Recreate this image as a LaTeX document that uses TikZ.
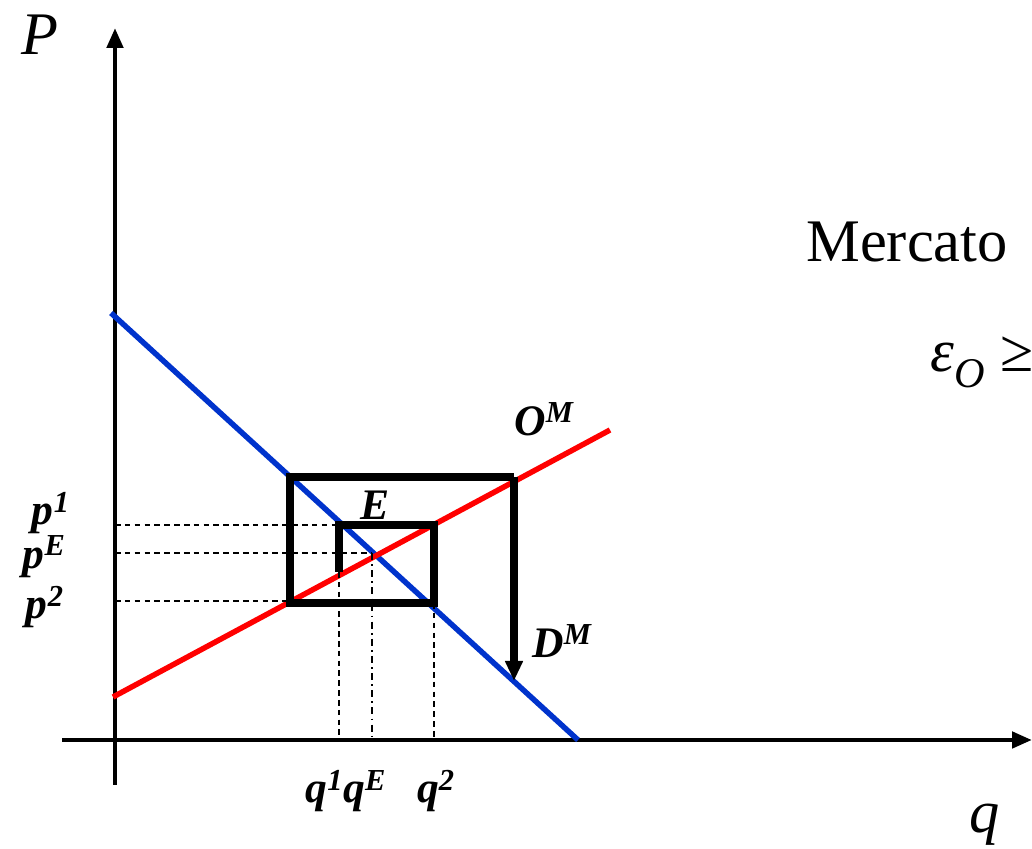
\documentclass[tikz,border=0pt]{standalone}
\usepackage{fontspec}
\setmainfont{Liberation Serif}
\usetikzlibrary{arrows.meta}

\definecolor{dblue}{RGB}{0,51,204}
\tikzset{
  axis/.style={line width=3.3pt, -{Triangle[length=5mm,width=4mm]}},
  demand/.style={line width=3.9pt, color=dblue},
  supply/.style={line width=3.9pt, color=red},
  web/.style={line width=5pt, line join=miter},
  guide/.style={line width=1.1pt, dash pattern=on 4pt off 3pt},
  guidedot/.style={line width=1.1pt, dash pattern=on 5pt off 3pt on 1.2pt off 3pt},
  lbl/.style={font=\fontsize{31}{33}\selectfont\bfseries\itshape, inner sep=0pt},
  big/.style={font=\fontsize{43}{46}\selectfont, inner sep=0pt},
}

\begin{document}
\begin{tikzpicture}
\useasboundingbox (0,0) rectangle (25.8,21.225);

% axes
\coordinate (ybot) at (2.875,1.6);
\coordinate (ytop) at (2.875,20.525);
\coordinate (xleft) at (1.55,2.725);
\coordinate (xright) at (25.8,2.725);
\draw[axis] (ybot) -- (ytop);
\draw[axis] (xleft) -- (xright);

% market curves
\coordinate (dstart) at (2.775,13.4);
\coordinate (dend) at (14.45,2.725);
\coordinate (sstart) at (2.825,3.8);
\coordinate (send) at (15.25,10.475);
\draw[demand] (dstart) -- (dend);
\draw[supply] (sstart) -- (send);

% cobweb
\coordinate (w0) at (8.475,6.925);
\coordinate (w1) at (8.475,8.1);
\coordinate (w2) at (10.85,8.1);
\coordinate (w3) at (10.85,6.15);
\coordinate (w4) at (7.25,6.15);
\coordinate (w5) at (7.25,9.3);
\coordinate (w6) at (12.85,9.3);
\coordinate (w7) at (12.85,4.2);
\coordinate (eq) at (9.3,7.4);
\draw[web] (w0) -- (w1) -- (w2) -- (w3) -- (w4) -- (w5) -- (w6);
\draw[web, -{Triangle[length=5mm,width=4.2mm]}] (w6) -- (w7);

% guide lines
\draw[guide] (ybot |- w1) -- (w1);
\draw[guide] (ybot |- eq) -- (eq);
\draw[guide] (2.875,6.2) -- (7.25,6.2);
\draw[guide] (w0) -- (w0 |- xleft);
\draw[guidedot] (eq) -- (eq |- xleft);
\draw[guide] (w3) -- (w3 |- xleft);

% labels
\node[big, font=\fontsize{43}{46}\selectfont\itshape] (lp) at (1.0,20.35) {P};
\node[big, font=\fontsize{43}{46}\selectfont\itshape] (lq) at (24.625,0.6) {q};
\node[big, anchor=base west] (merc) at (20.15,14.675) {Mercato};
\node[big, anchor=base west] (elas) at (23.25,11.925) {\itshape ε\textsubscript{O}\upshape\ ≥};
\node[lbl, anchor=east] (p1) at (1.75,8.4) {p\textsuperscript{1}};
\node[lbl, anchor=east] (pe) at (1.65,7.3) {p\textsuperscript{E}};
\node[lbl, anchor=east] (p2) at (1.6,6.05) {p\textsuperscript{2}};
\node[lbl] (q1) at (8.65,1.45) {q\textsuperscript{1}q\textsuperscript{E}};
\node[lbl] (q2) at (10.9,1.45) {q\textsuperscript{2}};
\node[lbl] (le) at (9.375,8.6) {E};
\node[lbl] (lo) at (13.6,10.75) {O\textsuperscript{M}};
\node[lbl] (ld) at (14.05,5.2) {D\textsuperscript{M}};
\end{tikzpicture}
\end{document}
